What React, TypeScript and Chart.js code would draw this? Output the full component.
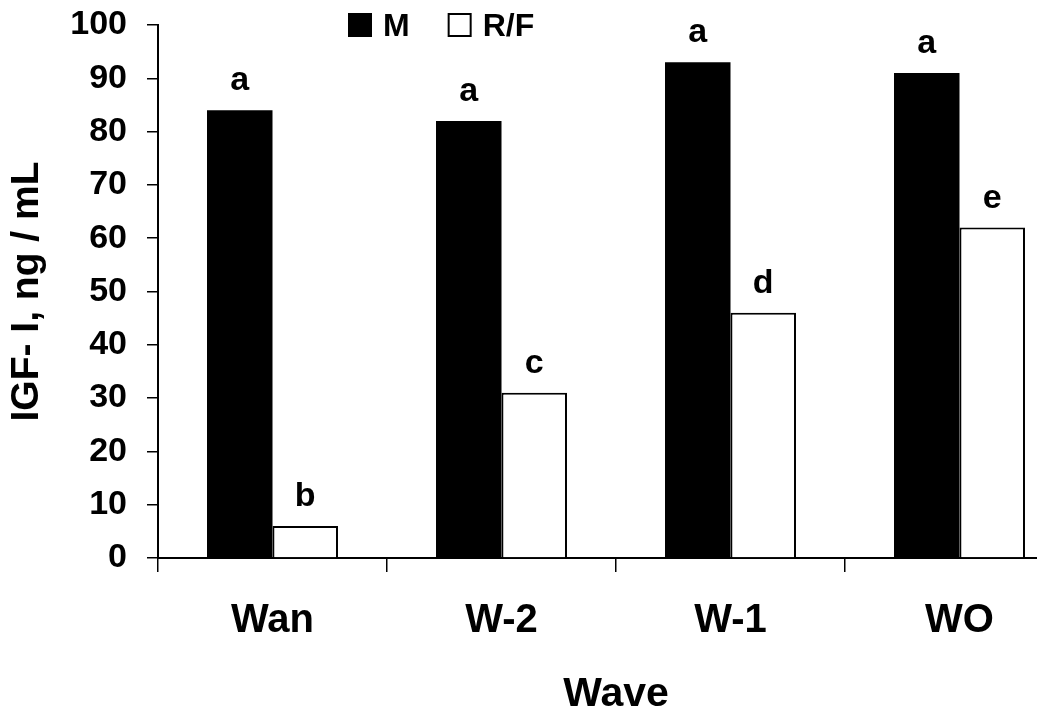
import React, { useEffect, useRef } from 'react';
import { Chart, registerables } from 'chart.js';

Chart.register(...registerables);

const categories = ['Wan', 'W-2', 'W-1', 'WO'];
const seriesM = [84, 82, 93, 91];
const seriesRF = [6, 31, 46, 62];
const lettersM = ['a', 'a', 'a', 'a'];
const lettersRF = ['b', 'c', 'd', 'e'];
const seriesNames = ['M', 'R/F'];
const yMin = 0;
const yMax = 100;
const yStep = 10;

const FONT = '"Liberation Sans", Arial, Helvetica, sans-serif';

const letterPlugin = {
  id: 'letters',
  afterDatasetsDraw(chart: any) {
    const ctx = chart.ctx;
    ctx.save();
    ctx.font = `bold 34px ${FONT}`;
    ctx.fillStyle = '#000';
    ctx.textAlign = 'center';
    ctx.textBaseline = 'alphabetic';
    const sets = [lettersM, lettersRF];
    chart.data.datasets.forEach((_ds: any, di: number) => {
      const meta = chart.getDatasetMeta(di);
      meta.data.forEach((el: any, i: number) => {
        ctx.fillText(sets[di][i], el.x, el.y - 20);
      });
    });
    ctx.restore();
  },
};

const legendPlugin = {
  id: 'customLegend',
  afterDraw(chart: any) {
    const ctx = chart.ctx;
    ctx.save();
    ctx.font = `bold 32px ${FONT}`;
    ctx.textBaseline = 'alphabetic';
    ctx.textAlign = 'left';
    let x = 348;
    const top = 13;
    const box = 24;
    chart.data.datasets.forEach((ds: any) => {
      ctx.fillStyle = ds.backgroundColor;
      ctx.fillRect(x, top, box, box);
      ctx.lineWidth = 2;
      ctx.strokeStyle = '#000';
      ctx.strokeRect(x + 1, top + 1, box - 2, box - 2);
      ctx.fillStyle = '#000';
      const tx = x + box + 11;
      ctx.fillText(ds.label, tx, top + box - 1);
      x = tx + ctx.measureText(ds.label).width + 38;
    });
    ctx.restore();
  },
};

export default function App() {
  const ref = useRef<HTMLCanvasElement | null>(null);
  useEffect(() => {
    if (!ref.current) return;
    const chart = new Chart(ref.current, {
      type: 'bar',
      data: {
        labels: categories,
        datasets: [
          {
            label: seriesNames[0],
            data: seriesM,
            backgroundColor: '#000000',
            borderColor: '#000000',
            borderWidth: 0,
            categoryPercentage: 0.572,
            barPercentage: 1.0,
          },
          {
            label: seriesNames[1],
            data: seriesRF,
            backgroundColor: '#ffffff',
            borderColor: '#000000',
            borderWidth: 2,
            categoryPercentage: 0.572,
            barPercentage: 1.0,
          },
        ],
      },
      options: {
        responsive: false,
        animation: false,
        devicePixelRatio: 1,
        layout: { padding: { left: 0, right: 26, top: 25, bottom: 0 } },
        plugins: {
          legend: { display: false },
          tooltip: { enabled: false },
        },
        scales: {
          x: {
            type: 'category',
            offset: true,
            grid: {
              display: true,
              drawOnChartArea: false,
              offset: true,
              tickLength: 14,
              color: '#000',
              lineWidth: 1.5,
            },
            border: { display: true, color: '#000', width: 2 },
            ticks: {
              color: '#000',
              padding: 25,
              font: { family: FONT, size: 40, weight: 'bold' },
            },
            title: {
              display: true,
              text: 'Wave',
              color: '#000',
              font: { family: FONT, size: 41, weight: 'bold', lineHeight: 0.78 },
              padding: { top: 0, bottom: 0 },
            },
            afterFit: (s: any) => {
              s.height = 153;
              s.paddingLeft = 0;
              s.paddingRight = 0;
            },
          },
          y: {
            min: yMin,
            max: yMax,
            grid: {
              display: true,
              drawOnChartArea: false,
              tickLength: 11,
              color: '#000',
              lineWidth: 1.5,
            },
            border: { display: true, color: '#000', width: 2 },
            ticks: {
              stepSize: yStep,
              color: '#000',
              padding: 20,
              font: { family: FONT, size: 34, weight: 'bold' },
            },
            title: {
              display: true,
              text: 'IGF- I, ng / mL',
              color: '#000',
              font: { family: FONT, size: 39, weight: 'bold' },
              padding: { top: 4, bottom: 0 },
            },
            afterFit: (s: any) => {
              s.width = 158;
              s.paddingTop = 0;
              s.paddingBottom = 0;
            },
          },
        },
      },
      plugins: [letterPlugin, legendPlugin],
    } as any);
    return () => chart.destroy();
  }, []);

  return (
    <div
      style={{
        position: 'absolute',
        left: 0,
        top: 0,
        width: 1037,
        height: 711,
        overflow: 'hidden',
        background: '#fff',
      }}
    >
      <canvas ref={ref} width={1100} height={711} style={{ display: 'block' }} />
    </div>
  );
}
